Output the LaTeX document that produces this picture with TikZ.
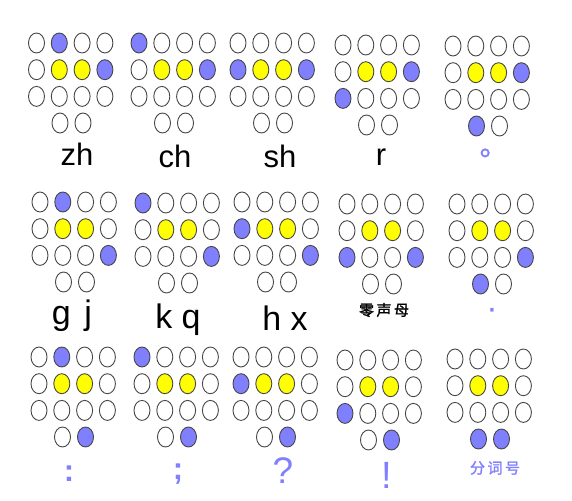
\documentclass[tikz,border=0pt]{standalone}
\usepackage{fontspec}
\setmainfont{Liberation Sans}
\newfontfamily\cjk[FakeBold=1.6]{Noto Sans CJK SC}
\usetikzlibrary{shapes.geometric}
\definecolor{bcol}{RGB}{128,128,255}
\definecolor{ycol}{RGB}{255,255,0}
\definecolor{ecol}{RGB}{70,70,70}
\tikzset{
  dotw/.style={ellipse, draw=ecol, line width=0.9pt, fill=white,
    minimum width=16pt, minimum height=20pt, inner sep=0pt},
  dotb/.style={dotw, fill=bcol},
  doty/.style={dotw, fill=ycol},
  labA/.style={font=\fontsize{31}{31}\selectfont, anchor=base, inner sep=0pt},
  labB/.style={font=\fontsize{34}{34}\selectfont, anchor=base, inner sep=0pt},
  labC/.style={font=\fontsize{34}{34}\selectfont, anchor=base, inner sep=0pt, text=bcol},
  cjklab/.style={font=\cjk\fontsize{15}{15}\selectfont, inner sep=0pt},
}
\newcommand\brcell[4]{%
  \foreach \c [count=\i from 0] in {#4} {
    \pgfmathtruncatemacro\rowi{int(\i/4)}
    \pgfmathtruncatemacro\coli{mod(\i,4)}
    \ifnum\i<12
      \pgfmathsetmacro\xx{#2+22.8*\coli}
      \pgfmathsetmacro\yy{#3+26.7*\rowi}
    \else
      \pgfmathsetmacro\xx{#2+23.5+23*(\i-12)}
      \pgfmathsetmacro\yy{#3+80}
    \fi
    \node[dot\c] (#1-\i) at (\xx,\yy) {};
  }}
\begin{document}
\begin{tikzpicture}[x=1pt,y=-1pt]
\fill[white] (0,0) rectangle (572,500);
\path[use as bounding box] (0,0) rectangle (572,500);
% row 1
\brcell{zh}{36.5}{43}{w,b,w,w, w,y,y,b, w,w,w,w, w,w}
\brcell{ch}{139}{43}{b,w,w,w, w,y,y,b, w,w,w,w, w,w}
\brcell{sh}{238}{43}{w,w,w,w, b,y,y,b, w,w,w,w, w,w}
\brcell{r}{343}{45}{w,w,w,w, w,y,y,b, b,w,w,w, w,w}
\brcell{jh}{453}{46}{w,w,w,w, w,y,y,b, w,w,w,w, b,w}
% row 2
\brcell{gj}{40}{202}{w,b,w,w, w,y,y,w, w,w,w,b, w,w}
\brcell{kq}{143}{203}{b,w,w,w, w,y,y,w, w,w,w,b, w,w}
\brcell{hx}{242}{202}{w,w,w,w, b,y,y,w, w,w,w,b, w,w}
\brcell{ls}{347}{204}{w,w,w,w, w,y,y,w, b,w,w,b, w,w}
\brcell{jg}{457}{204}{w,w,w,w, w,y,y,w, w,w,w,b, b,w}
% row 3
\brcell{mh}{39}{357}{w,b,w,w, w,y,y,w, w,w,w,w, w,b}
\brcell{fh}{142}{357}{b,w,w,w, w,y,y,w, w,w,w,w, w,b}
\brcell{wh}{241}{357}{w,w,w,w, b,y,y,w, w,w,w,w, w,b}
\brcell{th}{345}{360}{w,w,w,w, w,y,y,w, b,w,w,w, w,b}
\brcell{fc}{455}{359}{w,w,w,w, w,y,y,w, w,w,w,w, b,b}
% labels row 1
\node[labA] (lzh) at (77,165) {zh};
\node[labA] (lch) at (175,167) {ch};
\node[labA] (lsh) at (280,167) {sh};
\node[labA] (lr) at (381,165) {r};
\node[font=\cjk\fontsize{28}{28}\selectfont, text=bcol, anchor=base west, inner sep=0pt] (ljh) at (479.5,155.5) {。};
% labels row 2
\node[labB] (lgj) at (72,324) {g\hspace{0.4em}j};
\node[labB] (lkq) at (178,328) {k q};
\node[labB] (lhx) at (285,330) {h x};
\node[cjklab] (lls) at (384,310) {零\hspace{2.5pt}声\hspace{2.5pt}母};
\node[labC] (ljg) at (492,319) {·};
% labels row 3
\node[labC, font=\bfseries\fontsize{31}{31}\selectfont] (lmh) at (69,481) {:};
\node[labC, font=\bfseries\fontsize{31}{31}\selectfont] (lfh) at (178,479) {;};
\node[labC, font=\fontsize{37}{37}\selectfont] (lwh) at (283,483) {?};
\node[labC, font=\fontsize{38}{38}\selectfont] (lth) at (387,488) {!};
\node[cjklab, text=bcol] (lfc) at (495,468) {分\hspace{2.5pt}词\hspace{2.5pt}号};
\end{tikzpicture}
\end{document}
